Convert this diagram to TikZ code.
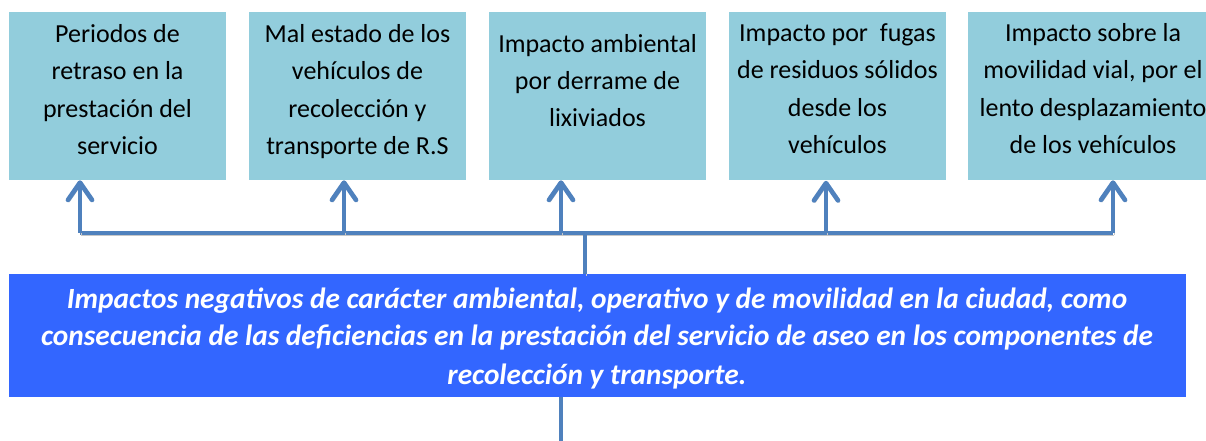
\documentclass[tikz,border=0pt]{standalone}
\usepackage{fontspec}
\setmainfont{Carlito}
\usepackage{tikz}
\usetikzlibrary{arrows.meta,positioning,calc}
\definecolor{effectfill}{RGB}{146,205,220}
\definecolor{problemfill}{RGB}{51,102,255}
\definecolor{linkcolor}{RGB}{79,129,189}

\begin{document}
\begin{tikzpicture}[x=0.75pt,y=-0.75pt]

  \tikzstyle{effect}=[rectangle,fill=effectfill,minimum width=162.75pt,
                      minimum height=126pt,inner sep=0pt]
  \tikzstyle{effect text}=[align=center,inner sep=0pt,anchor=base,
                           font=\fontsize{19.5}{28.1}\selectfont]
  \tikzstyle{problem}=[rectangle,fill=problemfill,minimum width=882.75pt,
                       minimum height=92.25pt,inner sep=0pt]
  \tikzstyle{problem text}=[align=center,inner sep=0pt,anchor=base,text=white,
                            font=\fontsize{22}{28.5}\selectfont\bfseries\itshape]
  \tikzstyle{link}=[draw=linkcolor,line width=3.5pt,
                    preaction={draw=black!22,transform canvas={shift={(1pt,-1.6pt)}}}]
  \tikzstyle{up}=[link,-{Straight Barb[length=13pt,width=18pt,round]}]

  \useasboundingbox (0,0) rectangle (1206,441);

  %effect boxes
  \node [effect] (b1) at (117.5,96) {};
  \node [effect] (b2) at (357.5,96) {};
  \node [effect] (b3) at (597.5,96) {};
  \node [effect] (b4) at (837.5,96.5) {};
  \node [effect,minimum width=187.5pt] (b5) at (1093,96) {};

  %texts sit on the baseline of their last line
  \node [effect text] (t1) at (117.5,154.5) {Periodos de\\retraso en la\\prestación del\\servicio};
  \node [effect text] (t2) at (357.5,154.5) {Mal estado de los\\vehículos de\\recolección y\\transporte de R.S};
  \node [effect text] (t3) at (597.5,127) {Impacto ambiental\\por derrame de\\lixiviados};
  \node [effect text] (t4) at (837.5,153.5) {Impacto por\ \ fugas\\de residuos sólidos\\desde los\\vehículos};
  \node [effect text] (t5) at (1093,153.5) {Impacto sobre la\\movilidad vial, por el\\lento desplazamiento\\de los vehículos};

  %central problem
  \node [problem] (p) at (597.5,335.5) {};
  \node [problem text] (pt) at (597,384) {Impactos negativos de carácter ambiental, operativo y de movilidad en la ciudad, como\\consecuencia de las deficiencias en la prestación del servicio de aseo en los componentes de\\recolección y transporte.};

  %connectors
  \coordinate (j1) at (80,233);
  \coordinate (j2) at (344,233);
  \coordinate (j3) at (561,233);
  \coordinate (j4) at (826,233);
  \coordinate (j5) at (1113,233);
  \coordinate (stem) at (585,233);
  \coordinate (tail) at (561,441);

  \draw [link] (j1) -- (j5);
  \foreach \i in {1,...,5}
    \draw [up] (j\i) -- (j\i |- b\i.south);
  \draw [link] (p.north -| stem) -- (stem);
  \draw [link] (p.south -| tail) -- (tail);

\end{tikzpicture}
\end{document}
